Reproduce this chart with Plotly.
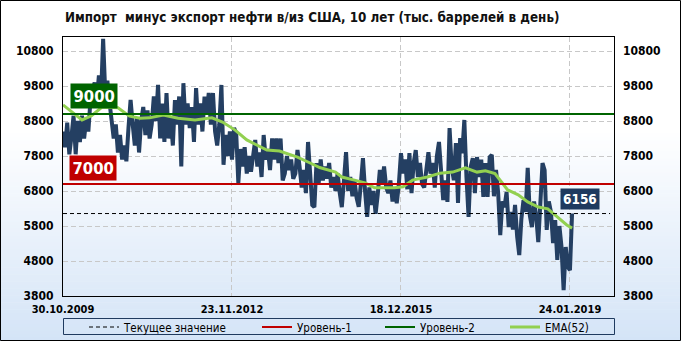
import plotly.graph_objects as go

# ---------------- data ----------------
title_text = "Импорт  минус экспорт нефти в/из США, 10 лет (тыс. баррелей в день)"
x_tick_pos = [0, 160, 320, 480]
x_tick_labels = ["30.10.2009", "23.11.2012", "18.12.2015", "24.01.2019"]
y_ticks = [3800, 4800, 5800, 6800, 7800, 8800, 9800, 10800]
y_tick_labels = [str(v) for v in y_ticks]

# net import (imports minus exports), thousand barrels/day, one value per two weeks
net_import = [
    8500, 8050, 8750, 7850, 8350, 8950, 7850, 8800, 8200, 8950, 8300, 8850,
    8500, 9400, 9700, 9900, 9400, 10100, 9500, 11150, 9600, 9950, 9350,
    8900, 8300, 8700, 7900, 8400, 7700, 8100, 7650, 8600, 9400, 8700, 8100,
    8900, 7900, 8800, 9200, 8400, 9100, 8300,
    8700, 9500, 8800, 9830, 8300, 9300, 8200, 9600, 8300, 8900, 8100, 9400,
    8700, 9500, 7500, 9880, 8700, 9300, 8600, 9200, 8200, 9740, 8700, 9300,
    8500, 9500, 9000, 9600, 8700, 9600, 8500, 8100, 8700, 9830, 7550, 8400,
    7800, 8500, 7700, 8600,
    8450, 7030, 8000, 7500, 8050, 7300, 7800, 7350, 7900, 8260, 7500, 7900,
    7200, 8400, 7700, 8000, 7400, 8300, 7700, 8300, 7600, 8300, 7100, 7300,
    7800, 7400, 7700, 7150, 7300, 7970, 7500, 6900, 7400, 6740, 8200, 7100,
    6400, 6340, 7600, 7000,
    7700, 7100, 7500, 7150, 7600, 6900, 7200, 6800, 7300, 6750, 6340, 7100,
    7910, 6800, 7200, 6650, 7100, 6600, 6350, 7000, 7740, 6800, 6060, 6900,
    6400, 6800, 6150, 6700, 7400, 7000, 7500, 6900, 6740, 7100, 6500, 6900,
    6450, 7000, 7880, 7300, 7700,
    6850, 7880, 6740, 7600, 7970, 7200, 7600, 7000, 6900, 7500, 7910, 7300,
    7600, 6900, 7800, 8200, 7300, 6540, 7100, 6490, 8600, 7500, 7110, 8170,
    6460, 8310, 7880, 8830, 7200, 6060, 7490, 7740, 6740, 7770, 7200, 7700,
    6630, 7600, 6630, 7770,
    7830, 6650, 7400, 6750, 5540, 6500, 6340, 6770, 5770, 6200, 5700, 6400,
    5500, 4970, 6000, 6540, 6200, 7460, 6100, 5770, 6500, 6100, 5340, 6300,
    7600, 7400, 5690, 6500, 6200, 5310, 5970, 4830, 5800, 5200, 3970, 5200,
    4630, 4540, 6156,
]
week_index = list(range(0, 2 * len(net_import), 2))

ema_week = [0, 9, 18, 27, 37, 52, 63, 73, 82, 95, 109, 125, 141, 151, 158, 163,
            174, 193, 205, 222, 234, 243, 258, 264, 276, 286, 295, 314, 322,
            331, 345, 357, 369, 381, 392, 400, 409, 416, 421, 431, 440, 450,
            459, 468, 477, 482]
ema_value = [9260, 9050, 8830, 8950, 9200, 9180, 8940, 8880, 8890, 8970, 8880,
             8830, 8890, 8770, 8630, 8540, 8260, 7970, 7940, 7770, 7600, 7470,
             7340, 7200, 7110, 7030, 6890, 6890, 6920, 7110, 7200, 7310, 7340,
             7460, 7340, 7380, 7300, 7030, 6830, 6690, 6490, 6340, 6290, 6060,
             5830, 5740]

level_1 = 7000
level_2 = 9000
current_value = 6156
x_end = 521.7

# ---------------- geometry helpers ----------------
W, H = 681, 341
L, R, T, B = 63, 67, 37, 45
PW, PH = W - L - R, H - T - B


def px2x(px):
    return (px - L) / PW


def py2y(py):
    return (H - B - py) / PH


NAVY = "#243f62"
RED = "#c00000"
DGREEN = "#006400"
LGREEN = "#92d050"
tick_font = dict(family="DejaVu Sans Condensed", size=12, color="black", weight="bold")
legend_font = dict(family="DejaVu Sans Condensed", size=11.5, color="black")

fig = go.Figure()

fig.add_trace(go.Scatter(x=week_index, y=net_import, mode="lines",
                         line=dict(color=NAVY, width=4), showlegend=False,
                         hoverinfo="skip"))
fig.add_trace(go.Scatter(x=ema_week, y=ema_value, mode="lines",
                         line=dict(color=LGREEN, width=3), name="EMA(52)",
                         legend="legend4"))
fig.add_trace(go.Scatter(x=[0, x_end], y=[level_1, level_1], mode="lines",
                         line=dict(color=RED, width=2), name="Уровень-1",
                         legend="legend2"))
fig.add_trace(go.Scatter(x=[0, x_end], y=[level_2, level_2], mode="lines",
                         line=dict(color=DGREEN, width=2), name="Уровень-2",
                         legend="legend3"))
fig.add_trace(go.Scatter(x=[0, 518], y=[current_value, current_value], mode="lines",
                         line=dict(color="black", width=1, dash="4px,3px"),
                         name="Текущее значение", legend="legend", yaxis="y2"))

# ---------------- background gradient & frames ----------------
shapes = []
g0 = 130
n = 60
for k in range(n):
    ya = g0 + (H - g0) * k / n
    yb = g0 + (H - g0) * (k + 1) / n
    t = (k + 0.5) / n
    r = round(255 + (212 - 255) * t)
    g = round(255 + (228 - 255) * t)
    b = round(255 + (247 - 255) * t)
    shapes.append(dict(type="rect", xref="paper", yref="paper",
                       x0=px2x(0), x1=px2x(W), y0=py2y(yb + 0.5), y1=py2y(ya),
                       fillcolor=f"rgb({r},{g},{b})", line=dict(width=0),
                       layer="below"))
shapes.append(dict(type="rect", xref="paper", yref="paper",
                   x0=px2x(0.5), x1=px2x(W - 0.5), y0=py2y(H - 0.5), y1=py2y(0.5),
                   line=dict(color="black", width=1), layer="above"))
shapes.append(dict(type="rect", xref="paper", yref="paper",
                   x0=px2x(63.5), x1=px2x(614.5), y0=py2y(334.5), y1=py2y(318.5),
                   line=dict(color="#1f3a5f", width=1), layer="above"))

# ---------------- annotations ----------------
annotations = [
    dict(x=6.6, y=level_2, xref="x", yref="y", text=f"<b>{level_2}</b>",
         showarrow=False, xanchor="left", yanchor="middle", yshift=18.5,
         bgcolor=DGREEN, borderpad=2.5,
         font=dict(family="DejaVu Sans Condensed", size=16.5, color="white")),
    dict(x=5.7, y=level_1, xref="x", yref="y", text=f"<b>{level_1}</b>",
         showarrow=False, xanchor="left", yanchor="middle", yshift=16,
         bgcolor=RED, borderpad=2.5,
         font=dict(family="DejaVu Sans Condensed", size=16.5, color="white")),
    dict(x=470.6, y=current_value, xref="x", yref="y", text=f"<b>{current_value}</b>",
         showarrow=False, xanchor="left", yanchor="middle", yshift=14.5,
         bgcolor="#1f3a5f", borderpad=2,
         font=dict(family="DejaVu Sans Condensed", size=13.5, color="white")),
]

legend_common = dict(orientation="h", xref="paper", yref="paper", yanchor="middle",
                     y=py2y(327), xanchor="left", bgcolor="rgba(0,0,0,0)",
                     borderwidth=0, font=legend_font, itemwidth=30)

fig.update_layout(
    width=W, height=H,
    margin=dict(l=L, r=R, t=T, b=B, pad=0, autoexpand=False),
    paper_bgcolor="white",
    plot_bgcolor="rgba(0,0,0,0)",
    title=dict(text=f"<b>{title_text}</b>", xref="container", yref="container",
               x=65 / W, xanchor="left", y=1 - 17 / H, yanchor="middle",
               font=dict(family="DejaVu Sans Condensed", size=13.3, color="#111111")),
    xaxis=dict(range=[0, x_end], tickmode="array", tickvals=x_tick_pos,
               ticktext=x_tick_labels, showgrid=True, gridcolor="#c8c8c8",
               griddash="5px,3px", gridwidth=1, showline=True, linecolor="black",
               linewidth=1, mirror=True, ticks="", zeroline=False,
               ticklabelstandoff=3,
               tickfont=dict(family="DejaVu Sans Condensed", size=11, color="black",
                             weight="bold")),
    yaxis=dict(range=[3800, 11200], tickmode="array", tickvals=y_ticks,
               ticktext=y_tick_labels,
               showgrid=True, gridcolor="#c8c8c8", griddash="5px,3px", gridwidth=1,
               showline=True, linecolor="black", linewidth=1, mirror=True,
               ticks="", zeroline=False, tickfont=tick_font, ticklabelstandoff=6),
    yaxis2=dict(range=[3800, 11200], tickmode="array", tickvals=y_ticks,
                ticktext=y_tick_labels,
                overlaying="y", side="right", showgrid=False, showline=False,
                ticks="", zeroline=False, tickfont=tick_font, ticklabelstandoff=8),
    shapes=shapes,
    annotations=annotations,
    legend=dict(legend_common, x=px2x(84)),
    legend2=dict(legend_common, x=px2x(257)),
    legend3=dict(legend_common, x=px2x(380)),
    legend4=dict(legend_common, x=px2x(505)),
)

fig.write_html("out.html")
